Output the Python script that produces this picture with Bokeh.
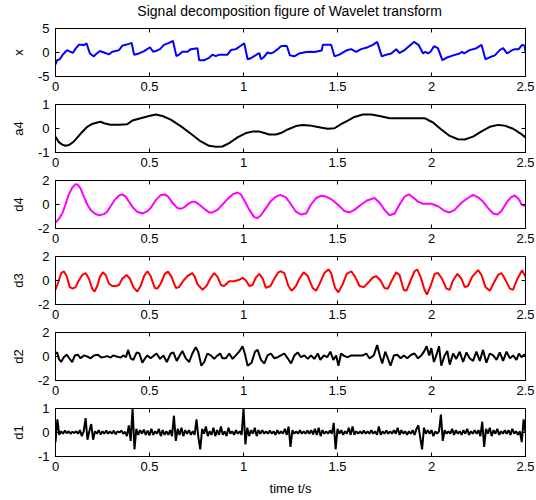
from bokeh.plotting import figure
from bokeh.layouts import column
from bokeh.models import Range1d, FixedTicker, LinearAxis
from bokeh.core.properties import value
from bokeh.embed import file_html
from bokeh.resources import INLINE

# ---------------- data ----------------
title_text = "Signal decomposition figure of Wavelet transform"
xlabel_text = "time t/s"

x_ticks = [0, 0.5, 1, 1.5, 2, 2.5]
x_tick_labels = ["0", "0.5", "1", "1.5", "2", "2.5"]

# x : original signal
x_t = [0, 0.009, 0.023, 0.036, 0.053, 0.062, 0.080, 0.092, 0.107, 0.124,
       0.142, 0.151, 0.165, 0.183, 0.204, 0.219, 0.236, 0.258, 0.284, 0.302,
       0.320, 0.338, 0.355, 0.391, 0.405, 0.418, 0.444, 0.471, 0.503, 0.519,
       0.533, 0.556, 0.577, 0.604, 0.625, 0.643, 0.657, 0.675, 0.702, 0.720,
       0.755, 0.764, 0.791, 0.817, 0.835, 0.853, 0.871, 0.915, 0.933, 0.960,
       0.981, 1.004, 1.022, 1.039, 1.063, 1.084, 1.093, 1.107, 1.128, 1.146,
       1.164, 1.182, 1.199, 1.221, 1.231, 1.247, 1.270, 1.297, 1.333, 1.359,
       1.377, 1.416, 1.422, 1.466, 1.484, 1.510, 1.546, 1.573, 1.599, 1.626,
       1.661, 1.688, 1.711, 1.736, 1.759, 1.786, 1.812, 1.830, 1.857, 1.883,
       1.907, 1.931, 1.955, 1.967, 1.981, 1.995, 2.013, 2.034, 2.058, 2.079,
       2.115, 2.150, 2.162, 2.173, 2.203, 2.239, 2.266, 2.287, 2.310, 2.337,
       2.363, 2.381, 2.402, 2.425, 2.443, 2.464, 2.482, 2.496, 2.5]
x_v = [-2.5, -1.6, -1.4, -0.6, 0.15, 0.5, 0.15, -0.1, 0.8, 1.6,
       1.6, 1.5, 1.9, -0.2, -0.8, -0.2, 0.3, 0.0, -0.4, 0.15,
       0.3, 0.5, 1.4, 1.8, 2.0, -0.45, -0.2, 0.3, 1.1, 0.15,
       0.3, 0.7, 1.6, 2.0, 2.4, -0.75, -0.45, 0.15, 0.15, 0.7,
       0.9, -1.6, -1.6, -1.1, -0.45, -0.75, -0.45, -0.45, 0.5, 0.7,
       1.3, 1.9, -1.4, -1.2, -0.6, -0.1, -1.4, -1.0, 0.0, -0.2,
       0.15, 0.7, 1.3, 1.4, 1.3, -0.6, -0.8, -0.2, 0.1, 0.15,
       0.1, 0.4, 1.6, 1.6, -0.8, -0.45, 0.4, 0.7, 0.15, 0.7,
       1.1, 1.6, 2.2, -0.8, -0.45, -0.2, 0.7, -0.1, 0.5, 1.4,
       2.2, 1.6, -0.2, 0.15, -0.2, 0.15, 1.3, 0.9, -1.6, -1.1,
       -0.6, -0.2, 0.15, -0.2, 0.5, 0.9, 1.6, -1.4, -1.0, -0.6,
       0.5, 0.9, -0.2, 0.4, 0.7, 0.7, 1.6, 1.4, 0.0]

# a4 : approximation
a4_t = [0, 0.018, 0.036, 0.053, 0.071, 0.098, 0.133, 0.169, 0.195, 0.222,
        0.240, 0.258, 0.293, 0.338, 0.382, 0.409, 0.453, 0.498, 0.533, 0.569,
        0.613, 0.666, 0.720, 0.773, 0.817, 0.853, 0.888, 0.924, 0.968, 1.013,
        1.048, 1.084, 1.111, 1.137, 1.173, 1.199, 1.235, 1.279, 1.315, 1.350,
        1.395, 1.448, 1.484, 1.519, 1.555, 1.590, 1.635, 1.679, 1.724, 1.777,
        1.839, 1.910, 1.963, 2.008, 2.052, 2.097, 2.141, 2.177, 2.221, 2.266,
        2.310, 2.354, 2.390, 2.434, 2.470, 2.5]
a4_v = [-0.34, -0.57, -0.67, -0.72, -0.69, -0.54, -0.22, 0.07, 0.19, 0.25,
        0.28, 0.22, 0.16, 0.16, 0.18, 0.33, 0.43, 0.52, 0.58, 0.52,
        0.37, 0.10, -0.22, -0.54, -0.72, -0.76, -0.75, -0.61, -0.37, -0.19,
        -0.13, -0.13, -0.19, -0.25, -0.25, -0.19, -0.04, 0.10, 0.15, 0.13,
        0.06, -0.01, 0.01, 0.18, 0.33, 0.48, 0.58, 0.58, 0.52, 0.43,
        0.43, 0.43, 0.43, 0.25, -0.04, -0.31, -0.45, -0.46, -0.34, -0.12,
        0.07, 0.15, 0.12, -0.01, -0.19, -0.37]

# d4
d4_t = [0, 0.018, 0.036, 0.053, 0.071, 0.089, 0.107, 0.119, 0.133, 0.151,
        0.169, 0.187, 0.208, 0.231, 0.258, 0.275, 0.293, 0.314, 0.338, 0.355,
        0.373, 0.391, 0.414, 0.435, 0.462, 0.485, 0.506, 0.533, 0.560, 0.581,
        0.599, 0.622, 0.649, 0.666, 0.684, 0.711, 0.728, 0.746, 0.764, 0.791,
        0.817, 0.835, 0.862, 0.888, 0.915, 0.942, 0.968, 0.986, 1.004, 1.031,
        1.057, 1.075, 1.093, 1.119, 1.146, 1.173, 1.196, 1.226, 1.253, 1.279,
        1.306, 1.333, 1.359, 1.386, 1.413, 1.439, 1.466, 1.501, 1.537, 1.564,
        1.590, 1.626, 1.661, 1.697, 1.724, 1.750, 1.777, 1.804, 1.830, 1.857,
        1.880, 1.901, 1.928, 1.955, 1.999, 2.035, 2.070, 2.097, 2.123, 2.159,
        2.194, 2.221, 2.248, 2.274, 2.301, 2.328, 2.351, 2.372, 2.399, 2.422,
        2.443, 2.464, 2.479, 2.5]
d4_v = [-1.5, -1.2, -0.75, 0.0, 0.84, 1.4, 1.7, 1.64, 1.34, 0.66,
        0.0, -0.45, -0.75, -0.9, -0.8, -0.6, -0.15, 0.36, 0.75, 0.84,
        0.66, 0.24, -0.3, -0.6, -0.75, -0.6, -0.3, 0.36, 0.8, 0.84,
        0.66, 0.15, -0.3, -0.36, -0.24, 0.1, 0.24, 0.2, 0.0, -0.36,
        -0.66, -0.66, -0.45, 0.0, 0.45, 0.84, 1.0, 0.84, 0.36, -0.45,
        -1.05, -1.13, -0.9, -0.3, 0.3, 0.66, 0.8, 0.6, 0.0, -0.6,
        -0.84, -0.75, 0.0, 0.54, 0.72, 0.66, 0.45, 0.0, -0.54, -0.66,
        -0.45, 0.0, 0.36, 0.54, 0.15, -0.45, -0.9, -0.75, 0.0, 0.66,
        0.84, 0.6, 0.24, 0.06, 0.06, -0.15, -0.54, -0.66, -0.45, 0.15,
        0.54, 0.8, 0.6, 0.24, -0.3, -0.75, -0.84, -0.54, 0.15, 0.6,
        0.75, 0.45, 0.0, -0.15]

# d3
d3_t = [0, 0.018, 0.030, 0.044, 0.059, 0.076, 0.092, 0.107, 0.124, 0.142,
        0.160, 0.178, 0.195, 0.208, 0.222, 0.236, 0.252, 0.267, 0.284, 0.302,
        0.320, 0.338, 0.355, 0.378, 0.396, 0.414, 0.435, 0.453, 0.471, 0.489,
        0.506, 0.528, 0.542, 0.560, 0.581, 0.599, 0.617, 0.640, 0.657, 0.681,
        0.702, 0.728, 0.741, 0.755, 0.782, 0.803, 0.823, 0.844, 0.862, 0.880,
        0.897, 0.924, 0.951, 0.977, 0.995, 1.013, 1.031, 1.048, 1.066, 1.084,
        1.102, 1.119, 1.143, 1.164, 1.185, 1.199, 1.217, 1.239, 1.256, 1.279,
        1.297, 1.320, 1.342, 1.368, 1.386, 1.404, 1.430, 1.452, 1.466, 1.487,
        1.505, 1.528, 1.549, 1.573, 1.594, 1.617, 1.640, 1.665, 1.688, 1.706,
        1.729, 1.750, 1.768, 1.789, 1.812, 1.830, 1.852, 1.866, 1.889, 1.910,
        1.924, 1.942, 1.963, 1.976, 1.995, 2.017, 2.035, 2.056, 2.079, 2.097,
        2.114, 2.138, 2.159, 2.177, 2.194, 2.216, 2.248, 2.266, 2.287, 2.310,
        2.333, 2.354, 2.372, 2.390, 2.417, 2.434, 2.457, 2.482, 2.5]
d3_v = [-0.77, 0.0, 0.6, 0.77, 0.37, -0.55, -0.68, -0.55, 0.0, 0.46,
        0.62, 0.15, -0.68, -0.92, -0.46, 0.3, 0.68, 0.46, -0.25, -0.46,
        -0.46, -0.37, 0.15, 0.46, 0.15, -0.55, -0.92, -0.46, 0.37, 0.77,
        0.37, -0.62, -0.68, -0.25, 0.55, 0.74, 0.3, -0.62, -0.55, 0.0,
        0.37, 0.62, 0.3, -0.3, -0.77, -0.46, 0.15, 0.62, 0.3, -0.37,
        -0.46, -0.06, -0.06, 0.06, 0.22, 0.0, -0.46, -0.37, 0.25, 0.55,
        0.15, -0.62, -0.46, 0.15, 0.68, 0.77, 0.62, -0.46, -0.86, -0.46,
        0.15, 0.68, 0.37, -0.62, -0.86, -0.3, 0.62, 0.92, 0.62, -0.62,
        -0.98, -0.3, 0.55, 0.77, 0.3, -0.46, -0.55, -0.15, 0.25, 0.37,
        0.0, -0.62, -0.68, 0.0, 0.68, 0.46, -0.77, -0.86, 0.0, 0.77,
        0.92, 0.3, -0.77, -1.17, -0.46, 0.55, 0.62, 0.15, -0.68, -0.77,
        0.0, 0.55, 0.15, -0.55, -0.46, 0.3, 0.86, 0.46, -0.55, -0.86,
        -0.15, 0.46, 0.62, 0.15, -0.68, -0.77, 0.15, 0.86, 0.3]

# d2
d2_t = [0, 0.009, 0.018, 0.030, 0.044, 0.059, 0.076, 0.089, 0.103, 0.119,
        0.133, 0.151, 0.169, 0.187, 0.204, 0.226, 0.243, 0.261, 0.275, 0.293,
        0.307, 0.325, 0.346, 0.361, 0.375, 0.386, 0.400, 0.414, 0.432, 0.446,
        0.462, 0.474, 0.489, 0.506, 0.524, 0.538, 0.556, 0.574, 0.592, 0.613,
        0.627, 0.645, 0.663, 0.675, 0.693, 0.711, 0.728, 0.746, 0.759, 0.776,
        0.791, 0.808, 0.826, 0.844, 0.858, 0.876, 0.888, 0.906, 0.924, 0.942,
        0.959, 0.977, 0.995, 1.007, 1.022, 1.043, 1.061, 1.075, 1.093, 1.111,
        1.128, 1.146, 1.164, 1.182, 1.199, 1.217, 1.235, 1.253, 1.271, 1.288,
        1.306, 1.324, 1.342, 1.359, 1.377, 1.395, 1.409, 1.427, 1.445, 1.462,
        1.478, 1.493, 1.505, 1.519, 1.537, 1.555, 1.573, 1.608, 1.635, 1.653,
        1.670, 1.693, 1.711, 1.725, 1.738, 1.754, 1.768, 1.782, 1.800, 1.818,
        1.836, 1.853, 1.871, 1.892, 1.910, 1.928, 1.946, 1.960, 1.974, 1.988,
        1.999, 2.013, 2.027, 2.040, 2.052, 2.070, 2.084, 2.097, 2.115, 2.132,
        2.150, 2.168, 2.186, 2.203, 2.221, 2.239, 2.257, 2.274, 2.292, 2.310,
        2.328, 2.346, 2.363, 2.381, 2.399, 2.417, 2.434, 2.452, 2.465, 2.479,
        2.493, 2.5]
d2_v = [0.25, 0.34, -0.2, -0.46, -0.06, 0.15, -0.2, -0.46, 0.09, 0.15,
        -0.15, 0.09, 0.0, -0.15, 0.09, 0.15, -0.09, -0.03, 0.03, -0.09,
        0.09, 0.0, -0.09, 0.09, -0.06, 0.55, -0.15, -0.28, 0.34, 0.25,
        -0.52, -0.2, 0.09, -0.15, 0.09, 0.25, -0.2, 0.09, -0.46, 0.25,
        0.34, -0.37, 0.15, 0.46, -0.15, -0.46, 0.25, 0.77, 0.4, -0.77,
        -0.46, 0.25, 0.09, -0.2, 0.03, 0.25, -0.15, -0.15, 0.25, -0.2,
        0.09, 0.4, 0.86, 0.25, -0.77, -0.52, 0.4, 0.55, -0.28, -0.58,
        0.09, 0.25, -0.15, -0.06, 0.09, 0.25, -0.15, -0.58, 0.09, 0.34,
        -0.06, 0.09, -0.2, 0.09, -0.2, 0.25, -0.28, 0.09, -0.06, 0.4,
        -0.28, 0.09, -0.77, 0.25, 0.03, -0.06, 0.09, 0.09, 0.09, 0.25,
        -0.15, 0.09, 0.95, 0.09, -0.58, 0.4, -0.15, -0.77, 0.09, 0.15,
        -0.15, 0.09, -0.15, 0.15, 0.25, -0.15, 0.09, 0.4, 0.86, 0.09,
        0.7, -0.46, 0.15, 0.86, -0.77, 0.09, 0.46, -0.68, 0.25, -0.2,
        0.4, -0.46, 0.34, -0.15, -0.37, 0.4, -0.37, 0.55, -0.52, 0.25,
        0.09, -0.28, 0.34, -0.37, 0.4, -0.15, 0.09, -0.28, 0.25, -0.06,
        0.15, 0.09]

# d1 : sampled every 0.01 s from 0 to 2.5
d1_step = 0.01
d1_v = [-0.40, 0.55, -0.10, 0.05, -0.05, 0.08, -0.03, 0.05, -0.05, 0.03,
        -0.02, 0.05, -0.05, 0.10, -0.15, 0.05, 0.60, -0.30, 0.05, 0.35,
        -0.30, 0.05, -0.05, 0.10, -0.08, 0.05, -0.05, 0.08, -0.05, 0.05,
        -0.05, 0.08, -0.08, 0.05, 0.00, 0.08, -0.05, 0.03, -0.15, 0.30,
        -0.35, 1.00, -0.70, 0.15, -0.10, 0.10, -0.05, 0.12, -0.10, 0.08,
        -0.12, 0.15, -0.10, 0.05, -0.05, 0.15, -0.15, 0.10, -0.10, 0.05,
        -0.10, 0.10, -0.15, 0.70, -0.35, 0.15, -0.10, 0.20, -0.15, 0.10,
        -0.05, 0.10, -0.10, 0.05, -0.10, 0.55, -0.20, -0.70, 0.15, -0.05,
        0.25, -0.15, 0.05, -0.10, 0.20, -0.15, 0.10, -0.10, 0.25, -0.10,
        0.05, -0.15, 0.20, -0.05, 0.05, -0.10, 0.10, -0.05, 0.05, -0.10,
        1.00, -0.50, 0.20, -0.15, 0.10, -0.05, 0.20, -0.15, 0.10, -0.05,
        0.10, -0.05, 0.05, -0.05, 0.08, -0.05, 0.05, -0.10, 0.10, -0.05,
        0.05, -0.05, 0.15, -0.10, 0.25, -0.60, 0.10, -0.05, 0.05, -0.05,
        0.10, -0.05, 0.05, -0.05, 0.08, -0.05, 0.10, -0.08, 0.15, -0.10,
        0.20, -0.15, 0.10, -0.05, 0.05, -0.05, 0.08, -0.05, 0.40, -0.70,
        0.15, -0.05, 0.10, -0.10, 0.05, -0.05, 0.20, -0.10, 0.25, -0.10,
        0.05, -0.05, 0.05, -0.05, 0.08, -0.05, 0.05, -0.05, 0.10, -0.05,
        0.05, -0.10, 0.25, -0.10, 0.05, -0.05, 0.08, -0.05, 0.05, -0.05,
        0.10, -0.05, 0.20, -0.10, 0.10, -0.05, 0.05, -0.10, 0.05, -0.05,
        0.10, -0.10, 0.15, 0.30, -0.20, -0.70, 0.20, -0.05, 0.10, -0.05,
        0.10, -0.15, 0.05, -0.05, 0.05, 0.75, -0.35, 0.10, -0.05, 0.05,
        -0.05, 0.15, -0.10, 0.10, -0.05, 0.05, -0.10, 0.10, -0.05, 0.15,
        -0.10, 0.05, -0.05, 0.10, -0.05, 0.10, -0.15, 0.45, -0.60, 0.15,
        -0.05, 0.20, -0.15, 0.10, -0.05, 0.15, -0.10, 0.05, -0.05, 0.10,
        -0.05, 0.10, -0.10, 0.15, -0.05, 0.05, -0.10, 0.05, -0.40, 0.55,
        0.00]
d1_t = [round(i * d1_step, 2) for i in range(len(d1_v))]

panel_names = ["x", "a4", "d4", "d3", "d2", "d1"]
panel_colors = ["#0000ff", "#000000", "#ff00ff", "#ff0000", "#000000", "#000000"]
panel_ylims = [(-5, 5), (-1, 1), (-2, 2), (-2, 2), (-2, 2), (-1, 1)]
panel_yticks = [[-5, 0, 5], [-1, 0, 1], [-2, 0, 2], [-2, 0, 2], [-2, 0, 2], [-1, 0, 1]]
panel_t = [x_t, a4_t, d4_t, d3_t, d2_t, d1_t]
panel_v = [x_v, a4_v, d4_v, d3_v, d2_v, d1_v]

# ---------------- styling ----------------
FONT = "Liberation Sans"
FS = "13px"
W = 536
TITLE_H = 22


def style_axis(ax, ticks, labels=True):
    ax.ticker = FixedTicker(ticks=ticks)
    ax.major_label_overrides = {float(t): (str(t) if labels else "") for t in ticks}
    ax.major_tick_in = 4
    ax.major_tick_out = 0
    ax.minor_tick_in = 0
    ax.minor_tick_out = 0
    ax.axis_line_color = "black"
    ax.major_tick_line_color = "black"
    ax.major_label_text_font = FONT
    ax.major_label_text_color = "black"
    if labels:
        ax.major_label_text_font_size = FS
    else:
        ax.major_label_text_font_size = "0px"
        ax.major_label_standoff = 0


# title strip (a bare figure whose ranges are its own pixel size)
tp = figure(width=W, height=TITLE_H, x_range=Range1d(0, W), y_range=Range1d(0, TITLE_H),
            x_axis_type=None, y_axis_type=None, output_backend="svg",
            toolbar_location=None, min_border=0)
tp.outline_line_color = None
tp.background_fill_color = "white"
tp.border_fill_color = "white"
tp.text(x=[267], y=[TITLE_H - 10], text=[title_text], text_font=value(FONT),
        text_font_size="14px", text_color="black", text_align="center",
        text_baseline="middle")

figs = [tp]
n = len(panel_names)
for i in range(n):
    top = 6
    bottom = 44 if i == n - 1 else 22
    h = top + 48 + bottom
    lo, hi = panel_ylims[i]
    p = figure(width=W, height=h, x_range=Range1d(0, 2.5), y_range=Range1d(lo, hi),
               output_backend="svg", toolbar_location=None,
               min_border_left=55, min_border_right=11,
               min_border_top=top, min_border_bottom=bottom)
    m = min(len(panel_t[i]), len(panel_v[i]))
    p.line(panel_t[i][:m], panel_v[i][:m], line_color=panel_colors[i], line_width=2)
    p.xgrid.visible = False
    p.ygrid.visible = False
    p.outline_line_color = "black"
    p.outline_line_width = 1
    p.background_fill_color = "white"
    p.border_fill_color = "white"

    xa = p.xaxis[0]
    style_axis(xa, x_ticks)
    xa.major_label_overrides = {float(t): l for t, l in zip(x_ticks, x_tick_labels)}
    xa.major_label_standoff = 5

    ya = p.yaxis[0]
    style_axis(ya, panel_yticks[i])
    ya.major_label_standoff = 6
    ya.axis_label = panel_names[i]
    ya.axis_label_text_font = FONT
    ya.axis_label_text_font_size = FS
    ya.axis_label_text_font_style = "normal"
    ya.axis_label_text_color = "black"
    ya.axis_label_standoff = 9

    top_ax = LinearAxis()
    style_axis(top_ax, x_ticks, labels=False)
    p.add_layout(top_ax, "above")
    right_ax = LinearAxis()
    style_axis(right_ax, panel_yticks[i], labels=False)
    p.add_layout(right_ax, "right")

    if i == n - 1:
        xa.axis_label = xlabel_text
        xa.axis_label_text_font = FONT
        xa.axis_label_text_font_size = FS
        xa.axis_label_text_font_style = "normal"
        xa.axis_label_text_color = "black"
        xa.axis_label_standoff = 7
    figs.append(p)

layout = column(*figs, spacing=0)
open("out.html", "w").write(file_html(layout, INLINE))
